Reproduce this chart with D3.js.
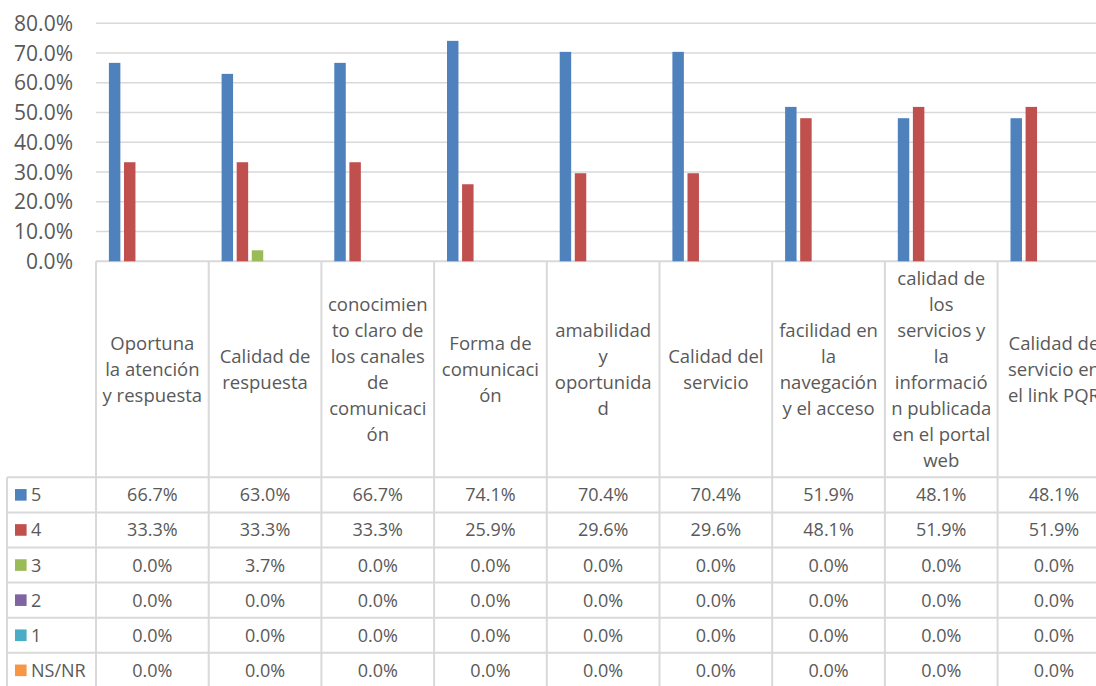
<!DOCTYPE html>
<html>
<head>
<meta charset="utf-8">
<script src="https://cdn.jsdelivr.net/npm/d3@7"></script>
<style>
  body { margin: 0; background: #fff; }
  svg { display: block; font-family: "Open Sans", sans-serif; }
</style>
</head>
<body>
<svg id="chart" width="1096" height="686"></svg>
<script>
// categories, wrapped the way the table header shows them
var categories = [
    ["Oportuna", "la atención", "y respuesta"],
    ["Calidad de", "respuesta"],
    ["conocimien", "to claro de", "los canales", "de", "comunicaci", "ón"],
    ["Forma de", "comunicaci", "ón"],
    ["amabilidad", "y", "oportunida", "d"],
    ["Calidad del", "servicio"],
    ["facilidad en", "la", "navegación", "y el acceso"],
    ["calidad de", "los", "servicios y", "la", "informació", "n publicada", "en el portal", "web"],
    ["Calidad de", "servicio en", "el link PQR"]
];
var seriesNames = ["5", "4", "3", "2", "1", "NS/NR"];
var seriesColors = ["#4F81BD", "#C0504D", "#9BBB59", "#8064A2", "#4BACC6", "#F79646"];

var values5 = [0.667, 0.630, 0.667, 0.741, 0.704, 0.704, 0.519, 0.481, 0.481];
var values4 = [0.333, 0.333, 0.333, 0.259, 0.296, 0.296, 0.481, 0.519, 0.519];
var values3 = [0, 0.037, 0, 0, 0, 0, 0, 0, 0];
var values2 = [0, 0, 0, 0, 0, 0, 0, 0, 0];
var values1 = [0, 0, 0, 0, 0, 0, 0, 0, 0];
var valuesNS = [0, 0, 0, 0, 0, 0, 0, 0, 0];
var seriesValues = [values5, values4, values3, values2, values1, valuesNS];

var yTicks = [0, 0.1, 0.2, 0.3, 0.4, 0.5, 0.6, 0.7, 0.8];

var svg = d3.select("#chart");
var gridColor = "#D9D9D9";
var textColor = "#595959";
var fmt = d3.format(".1%");

// layout
var plotLeft = 96, colW = 112.7, legendLeft = 7;
var headerTop = 261.3, headerBottom = 477.3, rowH = 35.1;

var x0 = d3.scaleBand()
    .domain(d3.range(categories.length))
    .range([plotLeft, plotLeft + colW * categories.length]);

var x1 = d3.scaleBand()
    .domain(seriesNames)
    .range([12.9, colW - 12.9])
    .paddingInner(0.24);

var y = d3.scaleLinear().domain([0, 0.8]).range([headerTop, 23.3]);

// gridlines
svg.append("g").selectAll("line")
    .data(yTicks)
    .join("line")
    .attr("x1", plotLeft).attr("x2", 1096)
    .attr("y1", d => y(d)).attr("y2", d => y(d))
    .attr("stroke", gridColor)
    .attr("stroke-width", d => d === 0 ? 2 : 1.5);

// y axis labels
svg.append("g").selectAll("text")
    .data(yTicks)
    .join("text")
    .attr("x", 73)
    .attr("y", d => y(d))
    .attr("dy", "0.36em")
    .attr("text-anchor", "end")
    .attr("font-size", 21)
    .attr("fill", textColor)
    .text(d => fmt(d));

// bars
var groups = svg.append("g").selectAll("g")
    .data(seriesValues)
    .join("g")
    .attr("fill", (d, i) => seriesColors[i]);

groups.selectAll("rect")
    .data((vals, si) => vals.map((v, ci) => ({ v: v, ci: ci, s: seriesNames[si] })))
    .join("rect")
    .filter(d => d.v > 0)
    .attr("x", d => x0(d.ci) + x1(d.s))
    .attr("width", x1.bandwidth())
    .attr("y", d => y(d.v))
    .attr("height", d => y(0) - y(d.v));

// data table
var table = svg.append("g");
var tableBottom = headerBottom + rowH * seriesNames.length;

// vertical lines
table.selectAll("line.v")
    .data(d3.range(categories.length + 1))
    .join("line")
    .attr("class", "v")
    .attr("x1", d => plotLeft + d * colW).attr("x2", d => plotLeft + d * colW)
    .attr("y1", headerTop).attr("y2", tableBottom)
    .attr("stroke", gridColor).attr("stroke-width", 2);

table.append("line")
    .attr("x1", legendLeft).attr("x2", legendLeft)
    .attr("y1", headerBottom).attr("y2", tableBottom)
    .attr("stroke", gridColor).attr("stroke-width", 2);

// horizontal lines
table.selectAll("line.h")
    .data(d3.range(seriesNames.length + 1))
    .join("line")
    .attr("class", "h")
    .attr("x1", legendLeft).attr("x2", 1096)
    .attr("y1", d => headerBottom + d * rowH).attr("y2", d => headerBottom + d * rowH)
    .attr("stroke", gridColor).attr("stroke-width", 2);

// header labels
var lineH = 26;
var headerMid = (headerTop + headerBottom) / 2;
table.selectAll("text.cat")
    .data(categories)
    .join("text")
    .attr("class", "cat")
    .attr("font-size", 18.5)
    .attr("fill", textColor)
    .attr("text-anchor", "middle")
    .each(function(lines, i) {
        var t = d3.select(this);
        var top = headerMid - lines.length * lineH / 2;
        lines.forEach(function(l, k) {
            t.append("tspan")
                .attr("x", x0(i) + colW / 2)
                .attr("y", top + k * lineH + lineH / 2)
                .attr("dy", "0.36em")
                .text(l);
        });
    });

// legend keys
var rows = table.selectAll("g.row")
    .data(seriesNames)
    .join("g")
    .attr("class", "row")
    .attr("transform", (d, i) => "translate(0," + (headerBottom + i * rowH + rowH / 2) + ")");

rows.append("rect")
    .attr("x", 15).attr("y", -5.8)
    .attr("width", 11.6).attr("height", 11.6)
    .attr("fill", (d, i) => seriesColors[i]);

rows.append("text")
    .attr("x", 31)
    .attr("dy", "0.36em")
    .attr("font-size", 18)
    .attr("fill", textColor)
    .text(d => d);

rows.selectAll("text.val")
    .data((d, i) => seriesValues[i])
    .join("text")
    .attr("class", "val")
    .attr("x", (d, ci) => x0(ci) + colW / 2)
    .attr("dy", "0.36em")
    .attr("text-anchor", "middle")
    .attr("font-size", 18)
    .attr("fill", textColor)
    .text(d => fmt(d));
</script>
</body>
</html>
